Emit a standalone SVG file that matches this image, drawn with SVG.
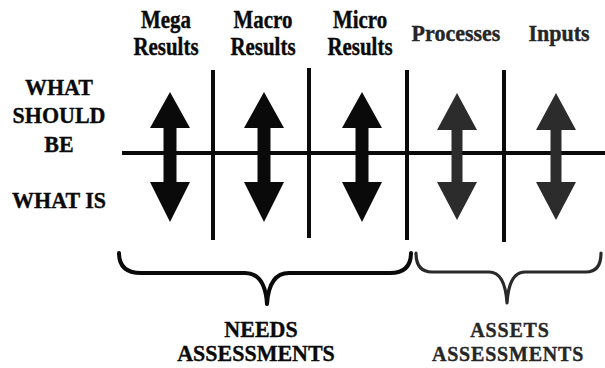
<svg xmlns="http://www.w3.org/2000/svg" width="605" height="368" viewBox="0 0 605 368">
<style>
  .t { font-family: "Liberation Serif", "Times New Roman", serif; font-weight: bold; font-size: 22px; fill: #0a0a0a; stroke: #0a0a0a; stroke-width: 0.35px; text-anchor: middle; }
  .g { fill: #262626; stroke: #262626; }
  .line { stroke: #0a0a0a; stroke-width: 4; fill: none; }
  .brace { stroke: #0a0a0a; stroke-width: 4; fill: none; stroke-linejoin: round; stroke-linecap: round; }
  .brace2 { stroke: #2a2a2a; stroke-width: 3.2; fill: none; stroke-linejoin: round; stroke-linecap: round; }
</style>
<defs>
  <path id="arrowB" d="M0,92 L20,128 L6.5,128 L6.5,182 L20,182 L0,222 L-20,182 L-6.5,182 L-6.5,128 L-20,128 Z" fill="#0a0a0a"/>
  <path id="arrowG" d="M0,93 L20,130 L5.5,130 L5.5,182 L20,182 L0,220 L-20,182 L-5.5,182 L-5.5,130 L-20,130 Z" fill="#2c2c2c"/>
</defs>
<rect width="605" height="368" fill="#fff"/>

<g id="headers">
  <text class="t" transform="translate(166,28) scale(0.95,1.1)">Mega</text>
  <text class="t" transform="translate(166,55) scale(0.95,1.1)">Results</text>
  <text class="t" transform="translate(263,28) scale(0.95,1.1)">Macro</text>
  <text class="t" transform="translate(263,55) scale(0.95,1.1)">Results</text>
  <text class="t" transform="translate(360,28) scale(0.95,1.1)">Micro</text>
  <text class="t" transform="translate(360,55) scale(0.95,1.1)">Results</text>
  <text class="t g" transform="translate(456,41) scale(1,1.05)">Processes</text>
  <text class="t g" transform="translate(559,41) scale(1,1.05)">Inputs</text>
</g>

<g id="row-labels">
  <text class="t" transform="translate(59,95) scale(1,1.08)">WHAT</text>
  <text class="t" transform="translate(59,123) scale(1,1.08)">SHOULD</text>
  <text class="t" transform="translate(59,152) scale(1,1.08)">BE</text>
  <text class="t" transform="translate(59,208) scale(1,1.08)">WHAT IS</text>
</g>

<g id="connectors">
  <line class="line" x1="122" y1="153" x2="605" y2="153"/>
  <line class="line" x1="213" y1="70" x2="213" y2="240"/>
  <line class="line" x1="309" y1="68" x2="309" y2="238"/>
  <line class="line" x1="407" y1="70" x2="407" y2="240"/>
  <line class="line" x1="504" y1="70" x2="504" y2="242"/>
</g>

<g id="arrow-mega"><use href="#arrowB" x="170"/></g>
<g id="arrow-macro"><use href="#arrowB" x="264"/></g>
<g id="arrow-micro"><use href="#arrowB" x="362"/></g>
<g id="arrow-processes"><use href="#arrowG" x="457"/></g>
<g id="arrow-inputs"><use href="#arrowG" x="556"/></g>

<g id="needs-brace">
  <path class="brace" d="M119,253 Q119,273 141,273 L245,273 Q265,273 267,304 Q269,273 289,273 L390,273 Q411,273 411,253"/>
  <text class="t" transform="translate(261,337) scale(1,1.05)">NEEDS</text>
  <text class="t" transform="translate(256,361) scale(1,1.05)">ASSESSMENTS</text>
</g>

<g id="assets-brace">
  <path class="brace2" d="M416,253 Q416,272 432,272 L489,272 Q505,272 507,303 Q509,272 525,272 L586,272 Q601,272 601,253"/>
  <text class="t g" transform="translate(510,337) scale(1,1.1)" style="font-size:20px;letter-spacing:0.8px">ASSETS</text>
  <text class="t g" transform="translate(508,361) scale(1,1.1)" style="font-size:20px;letter-spacing:0.8px">ASSESSMENTS</text>
</g>
</svg>
